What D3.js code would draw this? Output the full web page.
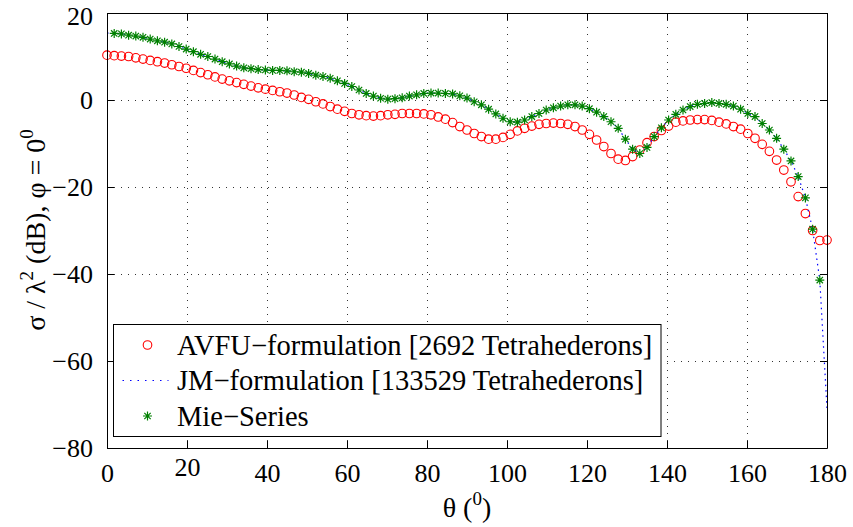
<!DOCTYPE html>
<html><head><meta charset="utf-8">
<script src="https://cdn.jsdelivr.net/npm/d3@7"></script>
<style>
@font-face{font-family:'ChartSerif';src:local('Liberation Serif'),local('LiberationSerif'),local('LiberationSerif-Regular'),local('Tinos'),local('DejaVu Serif'),local('Noto Serif');}
body{margin:0;background:#fff}
</style>
</head><body><svg id="c" width="853" height="527"></svg>
<script>
// ---------- data ----------
const thetaStep = 1.8; // sampling step of θ in degrees
// AVFU-formulation values at θ = 0, 1.8, ..., 180
const avfuValues = [10.3,10.2,10.1,10.0,9.7,9.4,9.1,8.8,8.5,8.1,7.7,7.3,6.8,6.3,5.8,5.3,4.8,4.4,4.0,3.6,
  3.2,2.8,2.5,2.2,1.9,1.6,1.15,0.6,0.15,-0.4,-0.9,-1.5,-2.1,-2.6,-3.1,-3.4,-3.6,-3.7,-3.6,-3.4,
  -3.3,-3.1,-3.1,-3.1,-3.2,-3.4,-3.9,-4.4,-5.2,-6.1,-6.9,-7.7,-8.4,-9.0,-9.0,-8.6,-7.9,-7.1,-6.5,-6.0,
  -5.6,-5.4,-5.3,-5.4,-5.6,-6.1,-6.9,-7.9,-9.2,-10.7,-12.3,-13.6,-13.9,-13.0,-11.5,-9.8,-8.4,-7.0,-6.0,-5.1,
  -4.8,-4.6,-4.5,-4.5,-4.7,-5.1,-5.5,-6.1,-6.7,-7.7,-8.8,-10.2,-11.8,-13.8,-16.1,-18.8,-22.2,-26.1,-30.0,-32.3,
  -32.2];
// Mie-Series values at θ = 1.8, 3.6, ..., 178.2
const mieValues = [15.3,15.2,14.9,14.7,14.4,14.0,13.6,13.3,12.9,12.3,11.7,11.1,10.5,10.0,9.4,8.8,8.3,7.8,7.4,7.2,
  7.0,6.9,6.8,6.8,6.7,6.5,6.4,6.1,5.7,5.4,5.0,4.4,3.8,3.1,2.3,1.5,0.9,0.4,0.2,0.3,
  0.5,0.9,1.2,1.5,1.6,1.6,1.5,1.4,0.95,0.45,-0.4,-1.1,-2.1,-3.2,-4.2,-5.0,-5.1,-4.6,-3.8,-3.1,
  -2.3,-1.8,-1.4,-1.1,-1.1,-1.4,-2.0,-2.8,-3.8,-5.0,-6.5,-9.0,-11.3,-12.3,-10.9,-8.4,-6.4,-4.6,-3.3,-2.3,
  -1.5,-1.0,-0.8,-0.6,-0.8,-1.0,-1.4,-2.1,-3.1,-3.8,-5.4,-6.9,-8.8,-11.3,-14.0,-17.6,-22.5,-29.7,-41.4];
// JM-formulation values at θ = 0, 1.8, ..., 180
const jmValues = [15.4,15.3,15.2,14.9,14.7,14.4,14.0,13.6,13.3,12.9,12.3,11.7,11.1,10.5,10.0,9.4,8.8,8.3,7.8,7.4,7.2,
  7.0,6.9,6.8,6.8,6.7,6.5,6.4,6.1,5.7,5.4,5.0,4.4,3.8,3.1,2.3,1.5,0.9,0.4,0.2,0.3,
  0.5,0.9,1.2,1.5,1.6,1.6,1.5,1.4,0.95,0.45,-0.4,-1.1,-2.1,-3.2,-4.2,-5.0,-5.1,-4.6,-3.8,-3.1,
  -2.3,-1.8,-1.4,-1.1,-1.1,-1.4,-2.0,-2.8,-3.8,-5.0,-6.5,-9.0,-11.3,-12.3,-10.9,-8.4,-6.4,-4.6,-3.3,-2.3,
  -1.5,-1.0,-0.8,-0.6,-0.8,-1.0,-1.4,-2.1,-3.1,-3.8,-5.4,-6.9,-8.8,-11.3,-14.0,-17.6,-22.5,-29.7,-41.4,-71.0];
const xTicks = [0,20,40,60,80,100,120,140,160,180];
const yTicks = [-80,-60,-40,-20,0,20];
const legendLabels = ["AVFU\u2212formulation [2692 Tetrahederons]","JM\u2212formulation [133529 Tetrahederons]","Mie\u2212Series"];

// ---------- layout ----------
const L=107,R=827,T=13,B=448;
const fontStyle=(px)=>`font-family:'Liberation Serif','ChartSerif','Tinos','Times New Roman','DejaVu Serif','Noto Serif';font-size:${px}px`;
const svg=d3.select("#c");
svg.append("rect").attr("width",853).attr("height",527).attr("fill","#fff");
const x=d3.scaleLinear().domain([0,180]).range([L,R]);
const y=d3.scaleLinear().domain([-80,20]).range([B,T]);

// grid
const grid=svg.append("g");
grid.selectAll("line.v").data(xTicks.slice(1,-1)).join("line").attr("class","v")
  .attr("x1",d=>x(d)).attr("x2",d=>x(d)).attr("y1",T).attr("y2",B);
grid.selectAll("line.h").data(yTicks.slice(1,-1)).join("line").attr("class","h")
  .attr("x1",L).attr("x2",R).attr("y1",d=>y(d)).attr("y2",d=>y(d));
grid.selectAll("line").attr("stroke","#333").attr("stroke-width",1).attr("stroke-dasharray","1,6")
  .attr("shape-rendering","crispEdges");

// AVFU circles
const avfu=avfuValues.map((v,i)=>({t:i*thetaStep,v}));
svg.append("g").selectAll("circle").data(avfu).join("circle")
  .attr("cx",d=>x(d.t)).attr("cy",d=>y(d.v)).attr("r",4.3)
  .attr("fill","none").attr("stroke","#ff0000").attr("stroke-width",1.1);

// JM dotted line
const jm=jmValues.map((v,i)=>({t:i*thetaStep,v}));
svg.append("path").datum(jm)
  .attr("d",d3.line().x(d=>x(d.t)).y(d=>y(d.v)))
  .attr("fill","none").attr("stroke","#0000ff").attr("stroke-width",1.2).attr("stroke-dasharray","1.5,4");

// Mie stars
const starPath=(s)=>{const d=s*0.7071;return `M0,${-s}L0,${s}M${-s},0L${s},0M${-d},${-d}L${d},${d}M${-d},${d}L${d},${-d}`;};
const mie=mieValues.map((v,i)=>({t:(i+1)*thetaStep,v}));
svg.append("g").selectAll("path").data(mie).join("path")
  .attr("transform",d=>`translate(${x(d.t)},${y(d.v)})`)
  .attr("d",starPath(4.5)).attr("fill","none").attr("stroke","#008000").attr("stroke-width",1.2);

// axes box with inward ticks
const ax=svg.append("g");
const axBottom=d3.axisBottom(x).tickValues(xTicks).tickSizeInner(-7).tickSizeOuter(0).tickPadding(16).tickFormat(d3.format("d"));
const axTop=d3.axisTop(x).tickValues(xTicks).tickSizeInner(-7).tickSizeOuter(0).tickFormat("");
const axLeft=d3.axisLeft(y).tickValues(yTicks).tickSizeInner(-7).tickSizeOuter(0).tickPadding(14).tickFormat(d3.format("d"));
const axRight=d3.axisRight(y).tickValues(yTicks).tickSizeInner(-7).tickSizeOuter(0).tickFormat("");
[[axBottom,`translate(0,${B})`],[axTop,`translate(0,${T})`],[axLeft,`translate(${L},0)`],[axRight,`translate(${R},0)`]]
  .forEach(([a,tr])=>{
    const g=ax.append("g").attr("transform",tr).call(a);
    g.selectAll("path,line").attr("stroke","#000").attr("stroke-width",1);
    g.selectAll("text").attr("style",fontStyle(26)).attr("fill","#000");
  });
// keep the top tick label inside the picture
ax.selectAll("text").filter(d=>d===20).attr("dy","0.45em");

// axis labels
const xl=svg.append("text").attr("x",467).attr("y",517).attr("text-anchor","middle")
  .attr("style",fontStyle(28)).attr("fill","#000");
xl.append("tspan").text("\u03b8 (");
xl.append("tspan").attr("style",fontStyle(19)).attr("dy",-12).text("0");
xl.append("tspan").attr("dy",12).text(")");

const yl=svg.append("text").attr("transform",`translate(45,230) rotate(-90)`).attr("text-anchor","middle")
  .attr("style",fontStyle(28)).attr("fill","#000");
yl.append("tspan").text("\u03c3 / \u03bb");
yl.append("tspan").attr("style",fontStyle(19)).attr("dy",-12).text("2");
yl.append("tspan").attr("dy",12).text(" (dB), \u03c6 = 0");
yl.append("tspan").attr("style",fontStyle(19)).attr("dy",-12).text("0");

// legend
const lg=svg.append("g");
lg.append("rect").attr("x",113.5).attr("y",324.5).attr("width",547.5).attr("height",112)
  .attr("fill","#fff").attr("stroke","#000").attr("stroke-width",1);
const rows=[345,380.5,416];
lg.append("circle").attr("cx",147.5).attr("cy",rows[0]).attr("r",4.3).attr("fill","none").attr("stroke","#ff0000").attr("stroke-width",1.1);
lg.append("line").attr("x1",122.5).attr("x2",168.5).attr("y1",rows[1]).attr("y2",rows[1])
  .attr("stroke","#0000ff").attr("stroke-width",1.2).attr("stroke-dasharray","1.5,6");
lg.append("path").attr("transform",`translate(147.5,${rows[2]})`).attr("d",starPath(4.5)).attr("fill","none").attr("stroke","#008000").attr("stroke-width",1.2);
lg.selectAll("text.lab").data(legendLabels).join("text").attr("class","lab")
  .attr("x",177).attr("y",(d,i)=>rows[i]).attr("dy","0.35em")
  .attr("style",fontStyle(28.5)).attr("fill","#000").text(d=>d);
</script></body></html>
